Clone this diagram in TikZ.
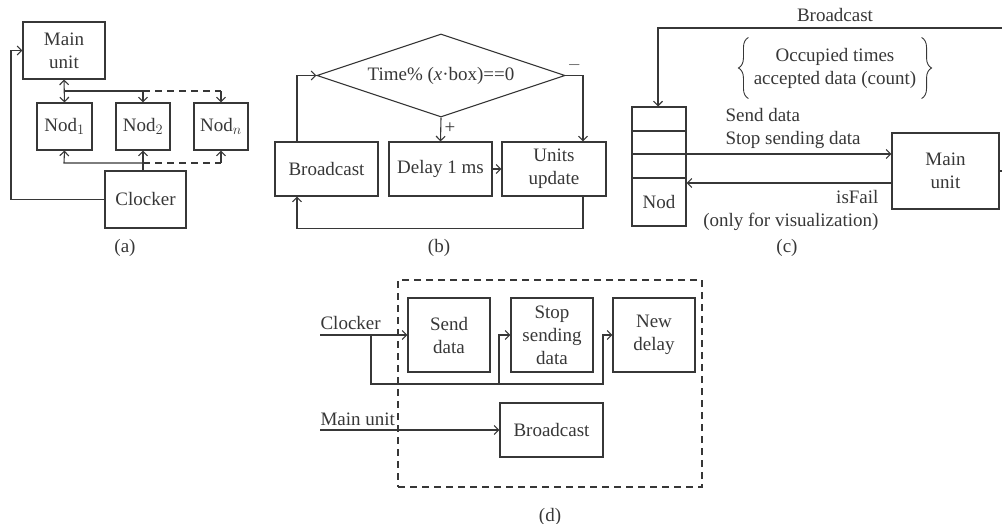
\documentclass[tikz,border=0pt]{standalone}
\usepackage{fontspec}
\setmainfont{Liberation Serif}
\usetikzlibrary{arrows.meta,shapes.geometric,decorations.pathreplacing}
\definecolor{lnc}{RGB}{55,55,55}

\begin{document}
\begin{tikzpicture}[x=1pt,y=-1pt,line width=1.1pt,color=lnc,
  font=\fontsize{19}{23}\selectfont,
  >={Straight Barb[length=4.5pt,width=9pt]},
  box/.style={draw,align=center,inner sep=0pt},
  cell/.style={draw,minimum width=54,inner sep=0pt},
  dsh/.style={dash pattern=on 7pt off 5pt},
  brc/.style={decorate,decoration={brace,amplitude=10pt},line width=0.9pt}]
  \useasboundingbox (0,0) rectangle (1002,524);

  % (a)
  \node[box,minimum width=82,minimum height=57] (mainA) at (64,50.5) {Main\\unit};
  \node[box,minimum width=55,minimum height=47] (nod1) at (64.5,126.5) {Nod$_1$};
  \node[box,minimum width=54,minimum height=47] (nod2) at (143,126.5) {Nod$_2$};
  \node[box,minimum width=54,minimum height=47] (nodn) at (221,126.5) {Nod$_n$};
  \node[box,minimum width=81,minimum height=57] (clkA) at (145.5,199.5) {Clocker};
  \coordinate (topA) at (64,91);
  \coordinate (botA) at (64,163);
  \draw[<->] (mainA.south) -- (nod1.north);
  \draw (topA) -- (topA -| nod2.north);
  \draw[->] (topA -| nod2.north) -- (nod2.north);
  \draw[dsh] (topA -| nod2.north) -- (topA -| nodn.north);
  \draw[->] (topA -| nodn.north) -- (nodn.north);
  \draw[->] (nod2.south |- clkA.north) -- (nod2.south);
  \draw[->] (botA -| nod2.south) -- (botA) -- (nod1.south);
  \draw[dsh] (botA -| nod2.south) -- (botA -| nodn.south);
  \draw[->] (botA -| nodn.south) -- (nodn.south);
  \draw[->] (clkA.west) -- (11,199.5) |- (mainA.west);
  \node (capA) at (125,248) {(a)};

  % (b)
  \node[draw,shape=diamond,shape aspect=3,minimum width=248,minimum height=83,inner sep=0pt]
    (cond) at (441,75.5) {Time\% (\textit{x}·box)==0};
  \node[box,minimum width=103,minimum height=54] (bcB) at (326.5,169) {Broadcast};
  \node[box,minimum width=103,minimum height=54] (delay) at (440.5,169) {Delay 1 ms};
  \node[box,minimum width=104,minimum height=54] (units) at (554,169) {Units\\update};
  \draw[->] ([xshift=-29.5pt]bcB.north) |- (cond.west);
  \draw[->] (cond.south) -- (delay.north) node[right,pos=.45] {+};
  \draw[->] (cond.east) -| ([xshift=29pt]units.north) node[above=1pt,pos=.25] {$-$};
  \draw[->] (delay) -- (units);
  \draw[->] ([xshift=29pt]units.south) -- ++(0,32) -| ([xshift=-29.5pt]bcB.south);
  \node (capB) at (439,248) {(b)};

  % (c)
  \node[cell,minimum height=24] (c1) at (659,119) {};
  \node[cell,minimum height=23] (c2) at (659,142.5) {};
  \node[cell,minimum height=24] (c3) at (659,166) {};
  \node[cell,minimum height=48] (nodC) at (659,202) {Nod};
  \node[box,minimum width=107,minimum height=76] (mainC) at (945.5,171) {Main\\unit};
  \node (bclbl) at (835,15) {Broadcast};
  \node[align=center,inner sep=0pt,minimum height=60,minimum width=172] (occ) at (835,68)
    {Occupied times\\accepted data (count)};
  \draw[brc] (occ.south west) -- (occ.north west);
  \draw[brc] (occ.north east) -- (occ.south east);
  \draw[->] (mainC.east) -- (1008,171) |- (658,28) -- (658,106.5);
  \coordinate (sendpt) at ([yshift=17pt]mainC.west);
  \coordinate (failpt) at ([yshift=-12pt]mainC.west);
  \draw[->] (sendpt -| c3.east) -- (sendpt);
  \draw[->] (failpt) -- (failpt -| nodC.east);
  \node[align=left,anchor=south west,inner sep=0pt] (sendlbl) at (725,149) {Send data\\Stop sending data};
  \node[align=right,anchor=north east,inner sep=0pt] (faillbl) at (879,190) {isFail\\(only for visualization)};
  \node (capC) at (787,248) {(c)};

  % (d)
  \node[draw,dsh,minimum width=304,minimum height=207,inner sep=0pt] (frame) at (550,383.5) {};
  \node[box,minimum width=82,minimum height=74] (send) at (449,335) {Send\\data};
  \node[box,minimum width=82,minimum height=74] (stop) at (552,335) {Stop\\sending\\data};
  \node[box,minimum width=82,minimum height=74] (newd) at (654,335) {New\\delay};
  \node[box,minimum width=103,minimum height=54] (bcD) at (551.5,430) {Broadcast};
  \node[anchor=base west,inner sep=0pt] (clkD) at (320,329) {Clocker};
  \node[anchor=base west,inner sep=0pt] (muD) at (320,425) {Main unit};
  \coordinate (clkin) at (320,335);
  \coordinate (muin) at (320,430);
  \coordinate (br) at (371,335);
  \draw[->] (clkin) -- (send.west);
  \draw[->] (br) |- (603,384) |- (newd.west);
  \draw[->] (499,384) |- (stop.west);
  \draw[->] (muin) -- (bcD.west);
  \node (capD) at (550,517) {(d)};
\end{tikzpicture}
\end{document}
